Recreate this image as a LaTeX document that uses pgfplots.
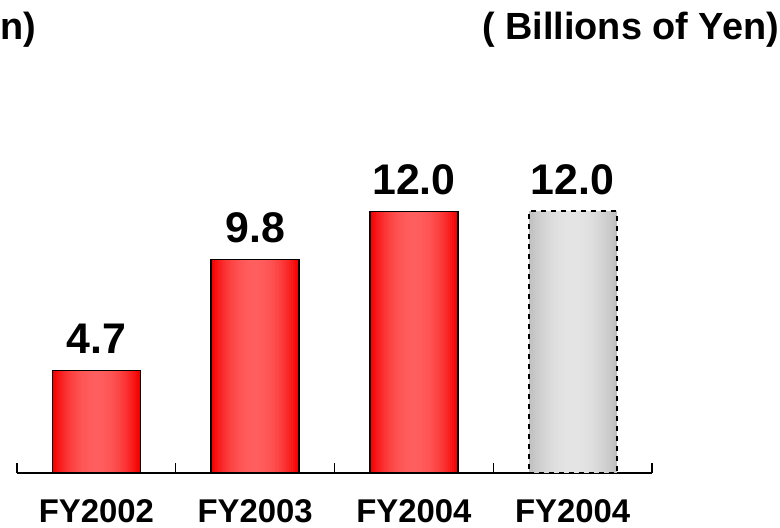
\documentclass[border=0pt]{standalone}
\usepackage{pgfplots}
\pgfplotsset{compat=1.18}
\usepackage{fontspec}
\setmainfont{Liberation Sans}
\definecolor{redEdge}{RGB}{245,0,0}
\definecolor{redMid}{RGB}{255,94,94}
\definecolor{grayEdge}{RGB}{192,192,192}
\definecolor{grayMid}{RGB}{228,228,228}
\begin{document}
\begin{tikzpicture}
\useasboundingbox (0,0) rectangle (780bp,528bp);
\node[anchor=base west, inner sep=0pt, font=\fontsize{38}{42}\selectfont\bfseries] at (0bp,488bp) {n)};
\node[anchor=base east, inner sep=0pt, font=\fontsize{38}{42}\selectfont\bfseries] at (779bp,488bp) {( Billions of Yen)};
\begin{axis}[
  at={(17bp,55bp)}, anchor=south west,
  scale only axis, width=635bp, height=327bp,
  xmin=-0.5, xmax=3.5, ymin=0, ymax=15,
  axis x line=bottom, axis y line=none,
  x axis line style={-, line width=1.3bp},
  xtick={0,1,2,3},
  xticklabels={FY2002,FY2003,FY2004,FY2004},
  minor xtick={-0.5,0.5,1.5,2.5,3.5},
  major tick length=0pt,
  minor tick length=10bp,
  xtick align=inside,
  every tick/.style={black, line width=1.3bp},
  minor tick style={black, line width=1.3bp},
  xticklabel style={anchor=base, yshift=-49bp, font=\fontsize{33}{37}\selectfont\bfseries},
  /pgf/number format/assume math mode=true,
  clip=false,
]
% gradient fills built as concentric bars
\pgfplotsinvokeforeach{0,...,21}{
  \addplot[ybar, bar width={88bp-4bp*#1}, bar shift=0pt, draw=none,
    fill=redMid!\the\numexpr 100-(21-#1)*(21-#1)*100/441\relax!redEdge, forget plot]
    coordinates {(0,4.7) (1,9.8) (2,12.0)};
  \addplot[ybar, bar width={88bp-4bp*#1}, bar shift=0pt, draw=none,
    fill=grayMid!\the\numexpr 100-(21-#1)*(21-#1)*100/441\relax!grayEdge, forget plot]
    coordinates {(3,12.0)};
}
% outlines and value labels
\addplot[ybar, bar width=88bp, bar shift=0pt, draw=black, line width=1.3bp, fill=none,
  nodes near coords={\pgfmathprintnumber[fixed,fixed zerofill,precision=1]{\pgfplotspointmeta}},
  every node near coord/.append style={anchor=base, yshift=17bp, font=\fontsize{43}{48}\selectfont\bfseries, text=black}]
  coordinates {(0,4.7) (1,9.8) (2,12.0)};
\addplot[ybar, bar width=88bp, bar shift=0pt, draw=black, line width=2.2bp, dash pattern=on 5bp off 5bp, fill=none,
  nodes near coords={\pgfmathprintnumber[fixed,fixed zerofill,precision=1]{\pgfplotspointmeta}},
  every node near coord/.append style={anchor=base, yshift=17bp, font=\fontsize{43}{48}\selectfont\bfseries, text=black, solid}]
  coordinates {(3,12.0)};
\end{axis}
\end{tikzpicture}
\end{document}
